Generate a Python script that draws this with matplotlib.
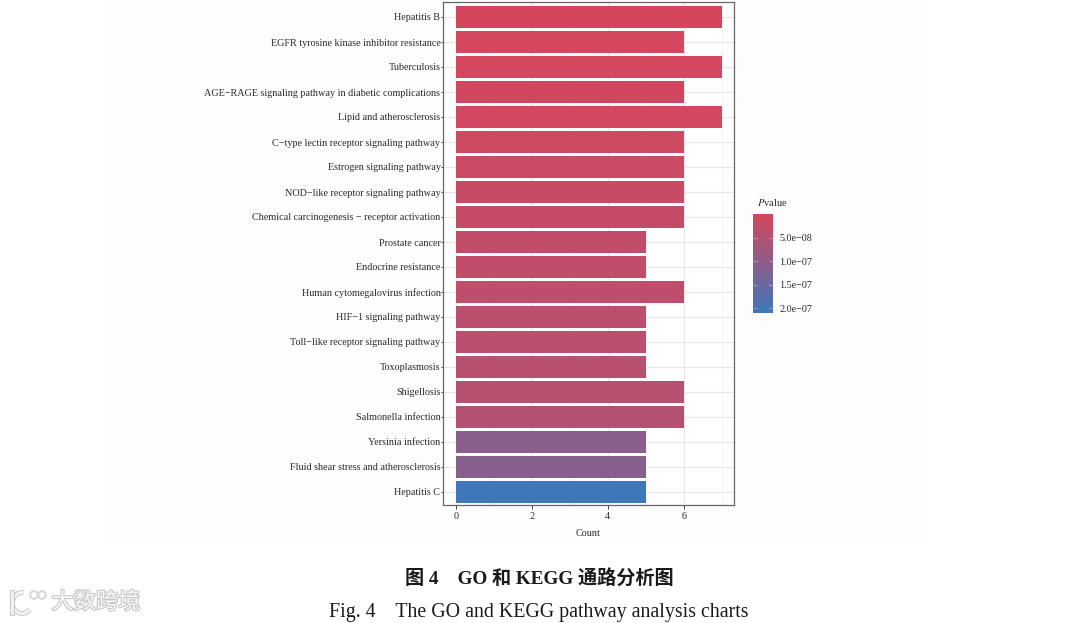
import matplotlib
matplotlib.use('Agg')
import matplotlib.pyplot as plt
from matplotlib.colors import LinearSegmentedColormap, Normalize
from matplotlib.patches import Rectangle, Circle, Arc
import matplotlib.patheffects as pe
import numpy as np

plt.rcParams['font.family'] = ['Liberation Serif', 'Noto Sans CJK SC']

pathways = ['Hepatitis B', 'EGFR tyrosine kinase inhibitor resistance', 'Tuberculosis',
            'AGE\u2212RAGE signaling pathway in diabetic complications', 'Lipid and atherosclerosis',
            'C\u2212type lectin receptor signaling pathway', 'Estrogen signaling pathway',
            'NOD\u2212like receptor signaling pathway', 'Chemical carcinogenesis \u2212 receptor activation',
            'Prostate cancer', 'Endocrine resistance', 'Human cytomegalovirus infection',
            'HIF\u22121 signaling pathway', 'Toll\u2212like receptor signaling pathway', 'Toxoplasmosis',
            'Shigellosis', 'Salmonella infection', 'Yersinia infection',
            'Fluid shear stress and atherosclerosis', 'Hepatitis C']
counts = [7, 6, 7, 6, 7, 6, 6, 6, 6, 5, 5, 6, 5, 5, 5, 6, 6, 5, 5, 5]
pvalues = [1e-9, 3e-9, 4e-9, 6e-9, 8e-9, 1.2e-8, 1.6e-8, 2e-8, 2.5e-8, 2.8e-8,
           3e-8, 3.3e-8, 3.8e-8, 4e-8, 4.2e-8, 4.5e-8, 4.8e-8, 1.05e-7, 1.1e-7, 2.1e-7]
cbar_ticks = [5e-8, 1e-7, 1.5e-7, 2e-7]
cbar_labels = ['5.0e\u221208', '1.0e\u221207', '1.5e\u221207', '2.0e\u221207']

W, H = 1080, 623
cmap = LinearSegmentedColormap.from_list('pv', ['#d6465d', '#3f78b9'])
norm = Normalize(0, 2.1e-7)
text_col = '#2a2a2a'

def box(x0, y0, x1, y1):
    # pixel box (top-left origin) to figure fractions
    return [x0 / W, 1 - y1 / H, (x1 - x0) / W, (y1 - y0) / H]

fig = plt.figure(figsize=(10.8, 6.23), dpi=100, facecolor='white')
fig.patches.append(Rectangle((108 / W, 1 - 543 / H), 820 / W, 543 / H, transform=fig.transFigure,
                             facecolor='#fdfdfd', edgecolor='none', zorder=-5))

ax = fig.add_axes(box(443, 2, 734, 505))
y = np.arange(len(pathways))
ax.barh(y, counts, height=0.9, color=cmap(norm(pvalues)), zorder=3)
ax.set_ylim(len(pathways) - 1 + 0.52, -0.6)
ax.set_xlim(-0.34, 7.32)
ax.set_yticks(y)
ax.set_yticklabels(pathways, fontsize=7.3, color=text_col)
ax.set_xticks([0, 2, 4, 6])
ax.set_xticks([1, 3, 5, 7], minor=True)
ax.tick_params(axis='x', which='major', labelsize=7.3, labelcolor=text_col, length=3, width=0.7,
               color='#444444', pad=2)
ax.tick_params(axis='x', which='minor', length=0)
ax.tick_params(axis='y', length=1.5, width=0.7, color='#444444', pad=0.3)
ax.grid(True, which='major', color='#e8e8e8', linewidth=0.9, zorder=0)
ax.grid(True, which='minor', axis='x', color='#f0f0f0', linewidth=0.6, zorder=0)
ax.set_axisbelow(True)
ax.set_xlabel('Count', fontsize=7.3, color=text_col, labelpad=6)
for s in ax.spines.values():
    s.set_color('#666666')
    s.set_linewidth(0.9)

# colour legend
cax = fig.add_axes(box(753, 214, 773, 313))
grad = np.linspace(0, 2.1e-7, 200).reshape(-1, 1)
cax.imshow(grad, aspect='auto', cmap=cmap, norm=norm, extent=[0, 1, 2.1e-7, 0])
cax.set_xticks([])
cax.set_yticks(cbar_ticks)
cax.set_yticklabels(cbar_labels, fontsize=7.3, color=text_col)
cax.yaxis.tick_right()
cax.tick_params(axis='y', length=0, pad=4.5)
for t in cbar_ticks:
    cax.plot([0, 0.2], [t, t], color='white', lw=0.4, alpha=0.6)
    cax.plot([0.8, 1], [t, t], color='white', lw=0.4, alpha=0.6)
cax.set_xlim(0, 1)
cax.set_ylim(2.1e-7, 0)
for s in cax.spines.values():
    s.set_visible(False)
fig.text(757 / W, 1 - 202 / H, '$\\mathit{P}$value', fontsize=7.5, color=text_col, va='center',
         math_fontfamily='stix')

# captions
fig.text(539 / W, 1 - 578 / H, '图 4\u3000GO 和 KEGG 通路分析图', fontsize=13.8, ha='center', va='center',
         color='#1a1a1a', fontweight='bold')
fig.text(539 / W, 1 - 612 / H, 'Fig. 4\u3000The GO and KEGG pathway analysis charts', fontsize=14.3,
         ha='center', va='center', color='#1a1a1a')

# watermark, logo drawn in pixel coords
halo = [pe.withStroke(linewidth=1.6, foreground='#c8c8c8')]
fig.text(96 / W, 1 - 603 / H, '大数跨境', fontsize=16, ha='center', va='center', color='#f8f8f8',
         path_effects=halo)
logo = fig.add_axes(box(0, 580, 60, 623))
logo.set_xlim(0, 60)
logo.set_ylim(623, 580)
logo.axis('off')
logo.plot([12, 12], [592, 613], color='#f4f4f4', lw=2, path_effects=[pe.withStroke(linewidth=3.5, foreground='#c8c8c8')])
logo.add_patch(Arc((22, 603), 19, 21, theta1=40, theta2=280, color='#f4f4f4', lw=2,
                   path_effects=[pe.withStroke(linewidth=3.5, foreground='#c8c8c8')]))
for cx in [34, 42]:
    logo.add_patch(Circle((cx, 595), 3.8, facecolor='none', edgecolor='#d8d8d8', lw=1.5))

fig.savefig('out.png', dpi=100)
